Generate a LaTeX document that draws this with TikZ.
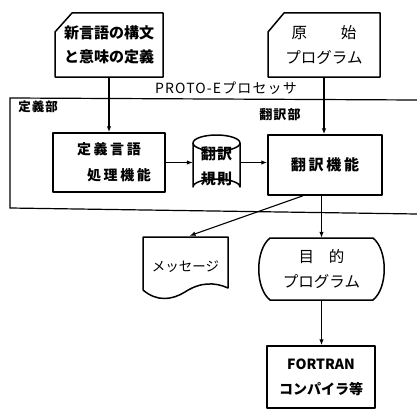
\documentclass[tikz,border=0pt]{standalone}
\usepackage{fontspec}
\usetikzlibrary{arrows.meta,calc}
\newfontfamily\jp{Noto Sans CJK JP}
\newfontfamily\jpw[LetterSpace=18]{Noto Sans CJK JP}
\newfontfamily\jpm[LetterSpace=8]{Noto Sans CJK JP}
\begin{document}
\begin{tikzpicture}[x=1pt,y=-1pt,
  box/.style={draw=none,inner sep=0pt,align=center},
  outl/.style={line width=1.5pt,line join=round},
  frm/.style={line width=1.2pt},
  ar/.style={line width=1.1pt,-{Latex[length=6pt,width=4.5pt]}},
  t15/.style={font=\jp\bfseries\fontsize{15}{24}\selectfont},
  t13/.style={font=\jp\bfseries\fontsize{13}{16}\selectfont}]
\useasboundingbox (0,0) rectangle (417,412);
% frame
\draw[frm] (417,100) -- (10,98) -- (10,208) -- (417,214);
\node[inner sep=0pt,font=\jpm\fontsize{14}{16}\selectfont] (proto) at (226,88) {PROTO-Eプロセッサ};
\node[inner sep=0pt,font=\jpm\bfseries\fontsize{12.5}{16}\selectfont] (defl) at (38,107) {定義部};
\node[inner sep=0pt,font=\jpm\bfseries\fontsize{13}{16}\selectfont] (trl) at (280,115) {翻訳部};
% card 1
\node[box,t15,minimum width=108pt,minimum height=64pt] (c1) at (109,45) {新言語の構文\\と意味の定義};
\draw[outl] (55,77) -- (55,32) -- (72,13) -- (163,13) -- (163,77) -- cycle;
% card 2
\node[box,minimum width=112pt,minimum height=64pt,font=\jp\fontsize{15.5}{25}\selectfont] (c2) at (324,45) {原\hspace{34pt}始\\プログラム};
\draw[outl] (268,77) -- (268,32) -- (284,13) -- (380,13) -- (380,77) -- cycle;
% definition processing box
\node[box,draw,outl,minimum width=112pt,minimum height=59pt,font=\jpw\bfseries\fontsize{14}{26}\selectfont] (def) at (109,162.5) {定義言語\hspace{20pt}\\\hspace{20pt}処理機能};
% cylinder
\node[box,minimum width=47pt,minimum height=60pt,font=\jpm\bfseries\fontsize{15}{25}\selectfont] (rule) at (216.5,166) {翻訳\\規則};
\draw[outl] (193,143) -- (193,187) arc[start angle=180,end angle=360,x radius=23.5,y radius=8] -- (240,143);
\draw[outl] (216.5,143) ellipse[x radius=23.5,y radius=8];
% translation box
\node[box,draw,outl,minimum width=114pt,minimum height=60pt,font=\jpw\bfseries\fontsize{15}{20}\selectfont] (tr) at (325,165) {翻訳機能};
% message (document)
\node[box,minimum width=85pt,minimum height=62pt,font=\jp\fontsize{13.5}{16}\selectfont] (msg) at (185.5,267) {メッセージ};
\draw[outl] (143,290) -- (143,237) -- (228,237) -- (228,288)
  .. controls (215,282) and (200,282) .. (185,292)
  .. controls (172,300) and (157,302) .. (143,290);
% object program
\node[box,minimum width=127pt,minimum height=62pt,font=\jp\fontsize{15.5}{25}\selectfont] (obj) at (321.5,269) {目\hspace{15pt}的\\プログラム};
\draw[outl] (270,238) -- (373,238) .. controls (388,250) and (388,288) .. (373,300)
  -- (270,300) .. controls (255,288) and (255,250) .. (270,238) -- cycle;
% fortran
\node[box,draw,outl,minimum width=108pt,minimum height=62pt,font=\jp\bfseries\fontsize{14}{25}\selectfont] (fort) at (321,377) {FORTRAN\\コンパイラ等};
% connectors
\draw[ar] (c1.south) -- (c1.south |- def.north);
\draw[ar] (c2.south) -- (c2.south |- tr.north);
\draw[ar] (def.east) -- (def.east -| rule.west);
\draw[ar] (rule.east |- def.east) -- (tr.west |- def.east);
\draw[ar] ($(tr.south west)!0.31!(tr.south east)$) -- ($(msg.north)+(4,0)$);
\draw[ar] (tr.south -| obj.north) -- (obj.north);
\draw[ar] (obj.south) -- (obj.south |- fort.north);
\end{tikzpicture}
\end{document}
